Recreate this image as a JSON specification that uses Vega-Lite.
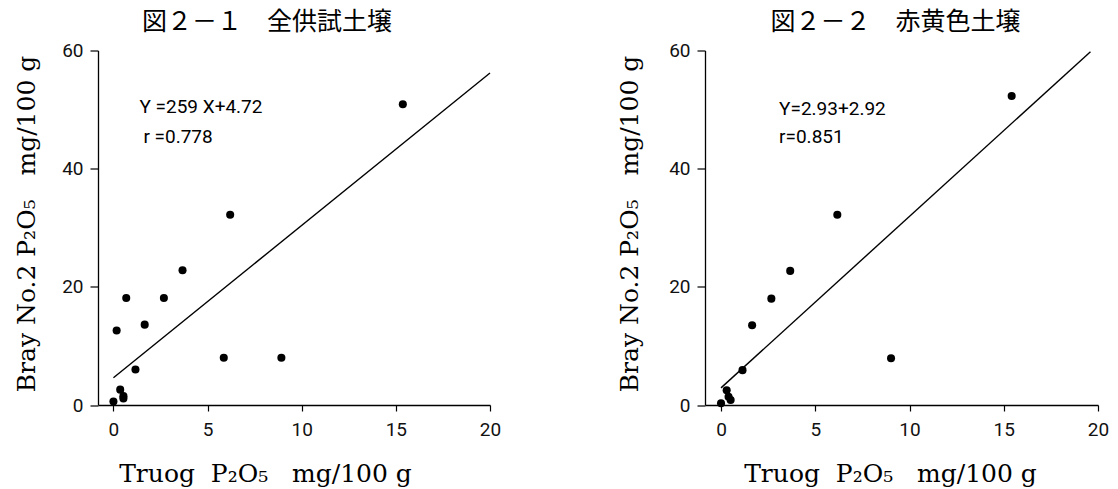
{
  "$schema": "https://vega.github.io/schema/vega-lite/v6.json",
  "autosize": {"type": "none"},
  "padding": {"left": 98, "top": 50.5, "right": 1020, "bottom": 438.5},
  "background": "white",
  "bounds": "flush",
  "spacing": 215,
  "datasets": {
    "pts1": [
      {"x": 15.37, "y": 50.9},
      {"x": 6.2, "y": 32.2},
      {"x": 3.67, "y": 22.8},
      {"x": 2.68, "y": 18.1},
      {"x": 0.68, "y": 18.1},
      {"x": 1.66, "y": 13.6},
      {"x": 0.17, "y": 12.6},
      {"x": 5.86, "y": 8.0},
      {"x": 8.92, "y": 8.0},
      {"x": 1.17, "y": 6.0},
      {"x": 0.36, "y": 2.6},
      {"x": 0.53, "y": 1.5},
      {"x": 0.53, "y": 1.1},
      {"x": 0.0, "y": 0.6}
    ],
    "line1": [
      {"x": 0.0, "y": 4.6},
      {"x": 20.0, "y": 56.2}
    ],
    "text1": [
      {"x": 1.38, "y": 50.4, "t": "Y =259 X+4.72"},
      {"x": 1.59, "y": 45.4, "t": "r =0.778"}
    ],
    "pts2": [
      {"x": 15.42, "y": 52.3},
      {"x": 6.17, "y": 32.2},
      {"x": 3.67, "y": 22.7},
      {"x": 2.67, "y": 18.0},
      {"x": 1.65, "y": 13.5},
      {"x": 1.14, "y": 5.9},
      {"x": 9.02, "y": 7.9},
      {"x": 0.3, "y": 2.5},
      {"x": 0.4, "y": 1.4},
      {"x": 0.51, "y": 0.85},
      {"x": 0.0, "y": 0.3}
    ],
    "line2": [
      {"x": 0.0, "y": 2.9},
      {"x": 19.6, "y": 59.8}
    ],
    "text2": [
      {"x": 3.08, "y": 50.1, "t": "Y=2.93+2.92"},
      {"x": 3.08, "y": 45.4, "t": "r=0.851"}
    ]
  },
  "hconcat": [
    {
      "width": 392,
      "height": 354.5,
      "title": {"text": "図２－１　全供試土壌", "font": "Noto Sans CJK JP", "fontSize": 25, "fontWeight": "normal", "color": "black", "anchor": "middle", "frame": "group", "dx": -27, "offset": -18.5, "baseline": "bottom"},
      "encoding": {
        "x": {"field": "x", "type": "quantitative", "scale": {"domain": [-0.82, 20], "nice": false, "zero": false},
          "axis": {"values": [0, 5, 10, 15, 20], "title": "Truog\u00a0\u00a0P₂O₅\u00a0\u00a0\u00a0mg/100\u00a0g", "titleX": 167, "titleY": 76, "titleAlign": "center", "titleBaseline": "alphabetic"}},
        "y": {"field": "y", "type": "quantitative", "scale": {"domain": [0, 60], "nice": false, "zero": false},
          "axis": {"values": [0, 20, 40, 60], "title": "Bray\u00a0No.2\u00a0P₂O₅\u00a0\u00a0\u00a0mg/100\u00a0g", "titleX": -64, "titleY": 173, "titleAlign": "center", "titleBaseline": "alphabetic", "titleAngle": -90}}
      },
      "layer": [
        {"data": {"name": "line1"}, "mark": {"type": "line", "color": "black", "strokeWidth": 1.4}},
        {"data": {"name": "pts1"}, "mark": {"type": "point", "filled": true, "shape": "circle", "size": 65, "color": "black", "opacity": 1}},
        {"data": {"name": "text1"}, "mark": {"type": "text", "align": "left", "baseline": "middle", "font": "Roboto", "fontSize": 19, "color": "black"}, "encoding": {"text": {"field": "t"}}}
      ]
    },
    {
      "width": 393,
      "height": 354.5,
      "title": {"text": "図２－２　赤黄色土壌", "font": "Noto Sans CJK JP", "fontSize": 25, "fontWeight": "normal", "color": "black", "anchor": "middle", "frame": "group", "dx": -6, "offset": -18.5, "baseline": "bottom"},
      "encoding": {
        "x": {"field": "x", "type": "quantitative", "scale": {"domain": [-0.85, 20], "nice": false, "zero": false},
          "axis": {"values": [0, 5, 10, 15, 20], "title": "Truog\u00a0\u00a0P₂O₅\u00a0\u00a0\u00a0mg/100\u00a0g", "titleX": 185, "titleY": 76, "titleAlign": "center", "titleBaseline": "alphabetic"}},
        "y": {"field": "y", "type": "quantitative", "scale": {"domain": [0, 60], "nice": false, "zero": false},
          "axis": {"values": [0, 20, 40, 60], "title": "Bray\u00a0No.2\u00a0P₂O₅\u00a0\u00a0\u00a0mg/100\u00a0g", "titleX": -68, "titleY": 173, "titleAlign": "center", "titleBaseline": "alphabetic", "titleAngle": -90}}
      },
      "layer": [
        {"data": {"name": "line2"}, "mark": {"type": "line", "color": "black", "strokeWidth": 1.4}},
        {"data": {"name": "pts2"}, "mark": {"type": "point", "filled": true, "shape": "circle", "size": 65, "color": "black", "opacity": 1}},
        {"data": {"name": "text2"}, "mark": {"type": "text", "align": "left", "baseline": "middle", "font": "Roboto", "fontSize": 19, "color": "black"}, "encoding": {"text": {"field": "t"}}}
      ]
    }
  ],
  "config": {
    "view": {"stroke": null},
    "concat": {"spacing": 215},
    "axis": {
      "grid": false,
      "domainColor": "black",
      "domainWidth": 1.3,
      "tickColor": "black",
      "tickWidth": 1.2,
      "labelFont": "Roboto",
      "labelFontSize": 19,
      "labelColor": "#111",
      "labelFlush": false,
      "labelOverlap": false,
      "titleFont": "DejaVu Serif",
      "titleFontSize": 25,
      "titleFontWeight": "normal",
      "titleColor": "black"
    },
    "axisX": {"tickSize": 6, "labelPadding": 9},
    "axisY": {"tickSize": 8, "labelPadding": 7}
  }
}
